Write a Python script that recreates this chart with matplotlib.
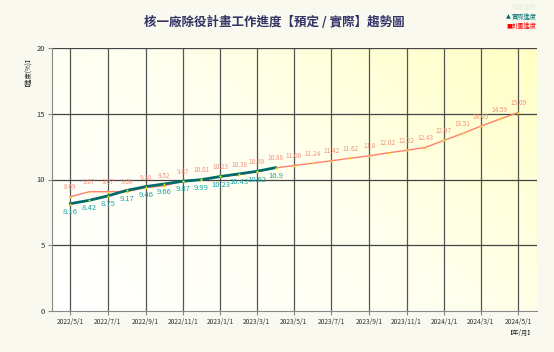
import numpy as np
import matplotlib
matplotlib.use('Agg')
import matplotlib.pyplot as plt
import matplotlib.dates as mdates
from matplotlib.colors import LinearSegmentedColormap
import datetime as dt

plt.rcParams['font.family'] = ['Noto Sans CJK TC', 'DejaVu Sans']
plt.rcParams['axes.unicode_minus'] = False

# 資料
months = [dt.date(2022 + (4 + i) // 12, (4 + i) % 12 + 1, 1) for i in range(25)]
plan = [8.69, 9.07, 9.07, 9.08, 9.38, 9.52, 9.87, 10.01, 10.23, 10.38, 10.59, 10.88,
        11.06, 11.24, 11.42, 11.62, 11.8, 12.02, 12.22, 12.43, 12.97, 13.51, 14.05,
        14.59, 15.09]
actual = [8.16, 8.42, 8.75, 9.17, 9.46, 9.66, 9.87, 9.99, 10.23, 10.43, 10.62, 10.9]
tick_dates = months[::2]
tick_labels = [f"{d.year}/{d.month}/1" for d in tick_dates]

fig = plt.figure(figsize=(5.54, 3.52), dpi=100, facecolor='#f9f9f0')
ax = fig.add_axes([52/554, 1-311/352, (537-52)/554, (311-48)/352])

x0 = mdates.date2num(dt.date(2022, 4, 1))
x1 = mdates.date2num(dt.date(2024, 6, 1))
ax.set_xlim(x0, x1)
ax.set_ylim(0, 20)

# 背景漸層
gx, gy = np.meshgrid(np.linspace(0, 1, 200), np.linspace(0, 1, 200))
grad = 0.6 * gx + 0.4 * gy
cmap = LinearSegmentedColormap.from_list('bg', ['#ffffff', '#fffff0', '#ffffc4'])
ax.imshow(grad, extent=[x0, x1, 0, 20], origin='lower', aspect='auto', cmap=cmap, zorder=0)

# 格線
for d in tick_dates:
    ax.axvline(mdates.date2num(d), color='#555555', lw=0.9, zorder=1)
for yv in [5, 10, 15, 20]:
    ax.axhline(yv, color='#444444', lw=0.9, zorder=1)

for s in ['top', 'right']:
    ax.spines[s].set_visible(False)
ax.spines['left'].set_color('#888888')
ax.spines['bottom'].set_color('#888888')

xp = mdates.date2num(months)
xa = xp[:len(actual)]
ax.plot(xp, plan, color='#ff7f6f', lw=1.0, zorder=3)
ax.plot(xa, actual, color='#006b6b', lw=2, zorder=4)
ax.scatter(xp, plan, s=2, color='#e6e600', zorder=5, linewidths=0)
ax.scatter(xa, actual, s=2, color='#e6e600', zorder=5, linewidths=0)

for x, v in zip(xp, plan):
    ax.annotate(f"{v:g}", (x, v), xytext=(0, 4), textcoords='offset points',
                ha='center', va='bottom', fontsize=4.6, color='#f4907c', zorder=6)
for x, v in zip(xa, actual):
    ax.annotate(f"{v:g}", (x, v), xytext=(0, -3), textcoords='offset points',
                ha='center', va='top', fontsize=5.5, color='#1aa5a5', zorder=6)

ax.set_xticks(mdates.date2num(tick_dates))
ax.set_xticklabels(tick_labels, fontsize=4.8, color='#333333')
ax.set_yticks([0, 5, 10, 15, 20])
ax.set_yticklabels(['0', '5', '10', '15', '20'], fontsize=5.5, color='#333333')
ax.tick_params(axis='both', length=3, color='#888888', pad=2)

fig.text(274/554, 1-22/352, '核一廠除役計畫工作進度【預定 / 實際】趨勢圖', ha='center', va='center',
         fontsize=9, color='#333366', fontweight='bold')
fig.text(25/554, 1-68/352, '【進度(%)】', rotation=90, ha='center', va='center',
         fontsize=4.5, color='#222222')
fig.text(521/554, 1-333/352, '【年/月】', ha='center', va='center', fontsize=4.5, color='#222222')

# 圖例
fig.text(506/554, 1-17/352, '▲', ha='left', va='center', fontsize=4.5, color='#006b6b',
         family=['DejaVu Sans'])
fig.text(512/554, 1-17/352, '實際進度', ha='left', va='center', fontsize=4.5, color='#006b6b')
fig.text(506/554, 1-26/352, '■', ha='left', va='center', fontsize=4.5, color='#ff0000',
         family=['DejaVu Sans'])
fig.text(512/554, 1-26/352, '計畫進度', ha='left', va='center', fontsize=4.5, color='#ff0000')
fig.text(512/554, 1-7/352, '預定進度', ha='left', va='center', fontsize=4.5, color='#e8f0d8')

fig.savefig('out.png', dpi=100, facecolor=fig.get_facecolor())
